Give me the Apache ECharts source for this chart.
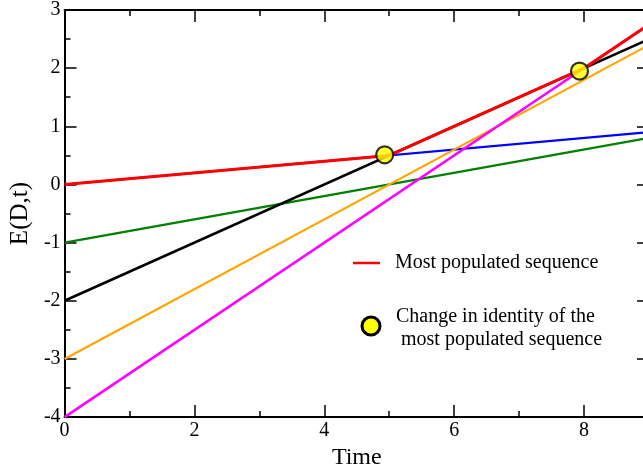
<!DOCTYPE html>
<html>
<head>
<meta charset="utf-8">
<script src="https://cdn.jsdelivr.net/npm/echarts@6/dist/echarts.min.js"></script>
<style>html,body{margin:0;padding:0;background:#fff;overflow:hidden;width:643px;height:475px}#c{width:652px;height:475px}</style>
</head>
<body>
<div id="c"></div>
<script>
// Data
const lineTime = [0, 9];
const blueE = [0, 0.9];
const greenE = [-1, 0.8];
const blackE = [-2, 2.5];
const orangeE = [-3, 2.4];
const magentaE = [-4, 2.75];
const redTime = [0, 5, 8, 9];
const redE = [0, 0.5, 2, 2.75];
const changeTime = [4.93, 7.93];
const changeE = [0.51, 1.95];
const xTicks = [0, 2, 4, 6, 8];
const yTicks = [-4, -3, -2, -1, 0, 1, 2, 3];

const FONT = "'Liberation Serif', 'DejaVu Serif', serif";
const zip = (xs, ys) => xs.map((x, i) => [x, ys[i]]);

const chart = echarts.init(document.getElementById('c'), null, {renderer: 'canvas'});

const tickStyle = {show: true, inside: true, length: 12, lineStyle: {color: '#000', width: 1.5}};
const minorStyle = {show: true, splitNumber: 2, length: 6, lineStyle: {color: '#000', width: 1.5}};
const axisLine = {show: true, onZero: false, lineStyle: {color: '#000', width: 2}};

function lineSeries(name, xs, ys, color, width) {
  return {
    name, type: 'line', xAxisIndex: 0, yAxisIndex: 0,
    data: zip(xs, ys), showSymbol: false, symbol: 'none',
    lineStyle: {color, width}, animation: false, silent: true
  };
}

chart.setOption({
  animation: false,
  backgroundColor: '#fff',
  grid: {left: 64, top: 10, width: 586, height: 410, containLabel: false},
  xAxis: [
    {
      type: 'value', min: 0, max: 9, interval: 2, position: 'bottom',
      name: 'Time', nameLocation: 'middle', nameGap: 22,
      nameTextStyle: {fontFamily: FONT, fontSize: 24, color: '#000'},
      axisLine, axisTick: tickStyle, minorTick: minorStyle,
      splitLine: {show: false},
      axisLabel: {fontFamily: FONT, fontSize: 20, color: '#000', margin: 4,
        formatter: v => xTicks.includes(v) ? String(v) : ''}
    },
    {
      type: 'value', min: 0, max: 9, interval: 2, position: 'top',
      axisLine, axisTick: tickStyle, minorTick: minorStyle,
      splitLine: {show: false}, axisLabel: {show: false}
    }
  ],
  yAxis: [
    {
      type: 'value', min: -4, max: 3, interval: 1, position: 'left',
      name: 'E(D,t)', nameLocation: 'middle', nameGap: 23,
      nameTextStyle: {fontFamily: FONT, fontSize: 25, color: '#000'},
      axisLine, axisTick: tickStyle, minorTick: minorStyle,
      splitLine: {show: false},
      axisLabel: {fontFamily: FONT, fontSize: 20, color: '#000', margin: 4,
        formatter: v => yTicks.includes(v) ? String(v) : ''}
    },
    {
      type: 'value', min: -4, max: 3, interval: 1, position: 'right',
      axisLine, axisTick: tickStyle, minorTick: minorStyle,
      splitLine: {show: false}, axisLabel: {show: false}
    }
  ],
  series: [
    lineSeries('blue', lineTime, blueE, '#0000ff', 2.2),
    lineSeries('green', lineTime, greenE, '#008000', 2.2),
    lineSeries('black', lineTime, blackE, '#000000', 2.6),
    lineSeries('orange', lineTime, orangeE, '#ffa500', 2.2),
    lineSeries('magenta', lineTime, magentaE, '#ff00ff', 2.6),
    lineSeries('Most populated sequence', redTime, redE, '#ff0000', 3),
    {
      name: 'Change', type: 'scatter', data: zip(changeTime, changeE),
      symbol: 'circle', symbolSize: 17,
      itemStyle: {color: '#ffff00', borderColor: '#000', borderWidth: 2.2},
      z: 10, silent: true
    }
  ],
  graphic: [
    {type: 'line', shape: {x1: 353, y1: 263, x2: 380, y2: 263},
     style: {stroke: '#ff0000', lineWidth: 2.5}},
    {type: 'text', x: 395, y: 263,
     style: {text: 'Most populated sequence', font: "20px " + FONT, fill: '#000', verticalAlign: 'middle'}},
    {type: 'circle', shape: {cx: 371, cy: 326, r: 9},
     style: {fill: '#ffff00', stroke: '#000', lineWidth: 3}},
    {type: 'text', x: 396, y: 317,
     style: {text: 'Change in identity of the', font: "20px " + FONT, fill: '#000', verticalAlign: 'middle'}},
    {type: 'text', x: 401, y: 340,
     style: {text: 'most populated sequence', font: "20px " + FONT, fill: '#000', verticalAlign: 'middle'}}
  ]
});
</script>
</body>
</html>
